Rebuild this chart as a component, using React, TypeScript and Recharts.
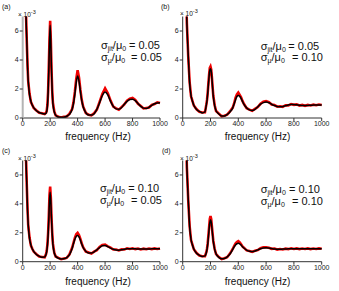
import { LineChart, Line, XAxis, YAxis } from "recharts";

const freq = [
  20, 25, 30, 35, 40, 50, 60, 70, 80, 100, 120, 140, 160, 170, 175, 180, 185,
  190, 195, 200, 205, 210, 215, 220, 230, 240, 260, 280, 300, 320, 340, 360,
  370, 380, 390, 400, 410, 420, 430, 440, 460, 480, 500, 520, 540, 560, 580,
  600, 620, 640, 660, 680, 700, 720, 740, 760, 780, 800, 820, 840, 860, 880,
  900, 920, 940, 960, 980, 1000,
];

// smooth fits (black)
const fitA = [
  10, 6.8, 5.3, 3.6, 2.6, 1.6, 1.15, 0.88, 0.72, 0.5, 0.38, 0.31, 0.28, 0.33, 0.45, 0.8, 1.7,
  3.3, 5.1, 6.4, 5.0, 3.2, 1.8, 1.0, 0.42, 0.2, 0.07, 0.05, 0.06, 0.12, 0.25, 0.6,
  1.0, 1.65, 2.45, 2.9, 2.55, 1.85, 1.2, 0.78, 0.36, 0.2, 0.2, 0.3, 0.6, 1.05, 1.55,
  1.8, 1.6, 1.15, 0.8, 0.63, 0.6, 0.72, 0.95, 1.15, 1.27, 1.3, 1.2, 1.0, 0.8, 0.68,
  0.66, 0.74, 0.87, 0.98, 1.04, 1.05,
];
const fitB = [
  10, 8.5, 6.6, 5.3, 4.3, 2.4, 1.55, 1.15, 0.88, 0.58, 0.45, 0.35, 0.42, 0.9, 1.2, 1.7, 2.3,
  2.9, 3.3, 3.4, 3.25, 2.75, 2.1, 1.5, 0.85, 0.5, 0.28, 0.14, 0.14, 0.25, 0.42, 0.7,
  0.97, 1.25, 1.48, 1.55, 1.5, 1.35, 1.15, 0.95, 0.7, 0.56, 0.52, 0.6, 0.78, 0.95, 1.06,
  1.1, 1.05, 0.95, 0.86, 0.8, 0.78, 0.8, 0.85, 0.9, 0.93, 0.93, 0.91, 0.88, 0.86, 0.86,
  0.87, 0.88, 0.89, 0.9, 0.9, 0.9,
];
const fitC = [
  10, 6.8, 5.3, 3.6, 2.6, 1.6, 1.15, 0.88, 0.72, 0.5, 0.38, 0.31, 0.32, 0.5, 0.7, 1.1, 1.8,
  2.9, 4.2, 4.8, 4.1, 2.9, 1.9, 1.2, 0.6, 0.38, 0.24, 0.19, 0.2, 0.28, 0.48, 0.92,
  1.25, 1.55, 1.75, 1.82, 1.72, 1.5, 1.22, 0.98, 0.72, 0.6, 0.6, 0.68, 0.82, 0.98, 1.1,
  1.12, 1.04, 0.94, 0.86, 0.81, 0.8, 0.82, 0.86, 0.89, 0.9, 0.9, 0.89, 0.88, 0.87, 0.87,
  0.88, 0.88, 0.89, 0.89, 0.9, 0.9,
];
const fitD = [
  10, 8.5, 6.6, 5.3, 4.3, 2.4, 1.55, 1.15, 0.88, 0.58, 0.45, 0.36, 0.4, 0.62, 0.85, 1.2, 1.7,
  2.25, 2.7, 2.9, 2.75, 2.35, 1.85, 1.4, 0.85, 0.55, 0.3, 0.2, 0.22, 0.33, 0.53, 0.85,
  1.02, 1.16, 1.24, 1.27, 1.24, 1.15, 1.04, 0.95, 0.8, 0.72, 0.7, 0.74, 0.82, 0.9, 0.95,
  0.96, 0.94, 0.91, 0.88, 0.86, 0.86, 0.87, 0.88, 0.89, 0.9, 0.9, 0.9, 0.89, 0.89, 0.89,
  0.9, 0.9, 0.9, 0.9, 0.9, 0.9,
];

// simulated spectra (red)
const psdA = [
  10, 6.9, 5.2, 3.7, 2.55, 1.65, 1.1, 0.9, 0.7, 0.52, 0.36, 0.33, 0.27, 0.36, 0.5, 0.9, 1.8,
  3.5, 5.4, 6.7, 5.3, 3.3, 1.9, 1.05, 0.45, 0.18, 0.09, 0.04, 0.08, 0.1, 0.28, 0.62,
  1.08, 1.8, 2.7, 3.3, 2.8, 1.95, 1.25, 0.8, 0.34, 0.23, 0.18, 0.33, 0.58, 1.1, 1.65,
  2.05, 1.7, 1.2, 0.78, 0.66, 0.57, 0.75, 0.93, 1.2, 1.33, 1.38, 1.24, 0.98, 0.83, 0.66,
  0.69, 0.72, 0.9, 0.96, 1.08, 1.03,
];
const psdB = [
  10, 8.6, 6.5, 5.4, 4.2, 2.45, 1.5, 1.18, 0.86, 0.6, 0.43, 0.38, 0.4, 0.92, 1.25, 1.75, 2.4,
  3.0, 3.45, 3.55, 3.35, 2.8, 2.15, 1.55, 0.88, 0.48, 0.3, 0.12, 0.16, 0.23, 0.45, 0.72,
  1.0, 1.38, 1.62, 1.75, 1.6, 1.42, 1.18, 0.98, 0.68, 0.58, 0.5, 0.63, 0.76, 0.98, 1.12,
  1.16, 1.1, 0.93, 0.89, 0.78, 0.81, 0.77, 0.88, 0.87, 0.96, 0.91, 0.94, 0.86, 0.9, 0.84,
  0.9, 0.86, 0.92, 0.88, 0.93, 0.89,
];
const psdC = [
  10, 6.9, 5.2, 3.7, 2.55, 1.65, 1.12, 0.9, 0.7, 0.52, 0.36, 0.33, 0.3, 0.53, 0.75, 1.2, 1.95,
  3.1, 4.6, 5.2, 4.4, 3.0, 2.0, 1.25, 0.62, 0.36, 0.26, 0.17, 0.22, 0.26, 0.5, 0.96,
  1.3, 1.65, 1.9, 2.0, 1.85, 1.58, 1.26, 1.0, 0.7, 0.63, 0.57, 0.7, 0.8, 1.02, 1.16,
  1.18, 1.06, 0.97, 0.84, 0.84, 0.78, 0.85, 0.84, 0.93, 0.88, 0.93, 0.87, 0.91, 0.85, 0.9,
  0.86, 0.91, 0.87, 0.92, 0.88, 0.92,
];
const psdD = [
  10, 8.6, 6.5, 5.4, 4.2, 2.45, 1.5, 1.18, 0.86, 0.6, 0.43, 0.38, 0.38, 0.66, 0.9, 1.28, 1.82,
  2.4, 2.95, 3.15, 2.95, 2.45, 1.95, 1.45, 0.88, 0.53, 0.32, 0.18, 0.24, 0.31, 0.56, 0.88,
  1.08, 1.25, 1.36, 1.42, 1.33, 1.2, 1.06, 0.97, 0.78, 0.74, 0.68, 0.76, 0.8, 0.93, 0.99,
  1.0, 0.96, 0.89, 0.91, 0.84, 0.88, 0.85, 0.9, 0.87, 0.93, 0.88, 0.92, 0.87, 0.91, 0.88,
  0.92, 0.87, 0.91, 0.88, 0.92, 0.89,
];

const xTicks = [0, 200, 400, 600, 800, 1000];
const yTicks = [0, 2, 4, 6];
const jitRatios = ["0.05", "0.05", "0.10", "0.10"];
const muRatios = ["0.05", "0.10", "0.05", "0.10"];
const panelNames = ["(a)", "(b)", "(c)", "(d)"];

const FONT = "'Liberation Sans', Arial, Helvetica, sans-serif";

type PanelProps = {
  left: number;
  top: number;
  w: number;
  h: number;
  mTop: number;
  mRight: number;
  yW: number;
  xH: number;
  fit: number[];
  psd: number[];
  grayAxis?: boolean;
};

function Panel({ left, top, w, h, mTop, mRight, yW, xH, fit, psd, grayAxis }: PanelProps) {
  const data = freq.map((f, i) => ({ f, fit: fit[i], psd: psd[i] }));
  const tick = { fontSize: 7, fill: "#222", fontFamily: FONT };
  return (
    <div style={{ position: "absolute", left, top }}>
      <LineChart width={w} height={h} data={data} margin={{ top: mTop, right: mRight, left: 0, bottom: 0 }}>
        <XAxis
          dataKey="f"
          type="number"
          domain={[0, 1000]}
          ticks={xTicks}
          height={xH}
          tickSize={3}
          tickMargin={0}
          tick={tick}
          axisLine={{ stroke: "#333" }}
          tickLine={{ stroke: "#333" }}
          interval={0}
        />
        <YAxis
          type="number"
          domain={[0, 7]}
          ticks={yTicks}
          allowDataOverflow
          width={yW}
          tickSize={3}
          tickMargin={1}
          tick={tick}
          axisLine={grayAxis ? { stroke: "#b4b4b4", strokeWidth: 2 } : { stroke: "#333" }}
          tickLine={{ stroke: "#333" }}
          interval={0}
        />
        <Line dataKey="psd" type="linear" stroke="#f00000" strokeWidth={2.6} dot={false} isAnimationActive={false} />
        <Line dataKey="fit" type="monotone" stroke="#000" strokeWidth={1.5} dot={false} isAnimationActive={false} />
      </LineChart>
    </div>
  );
}

const txt = (left: number, cy: number, size: number): React.CSSProperties => ({
  position: "absolute",
  left,
  top: cy - size / 2,
  fontSize: size,
  lineHeight: `${size}px`,
  fontFamily: FONT,
  color: "#111",
  whiteSpace: "nowrap",
});

function Texts({ idx, lx, ly, sx, sy, fx, fy, ax, ay, v1, v2, dy }: any) {
  return (
    <>
      <div style={txt(lx, ly, 7)}>{panelNames[idx]}</div>
      <div style={txt(sx, sy, 6.5)}>
        × 10<sup style={{ fontSize: 5.5, verticalAlign: "3px" }}>-3</sup>
      </div>
      <div style={{ ...txt(fx, fy, 10), transform: "translateX(-50%)" }}>frequency (Hz)</div>
      <div style={txt(ax, ay, 11)}>
        σ<sub style={{ fontSize: 7, verticalAlign: "-2px" }}>jit</sub>/μ<sub style={{ fontSize: 7, verticalAlign: "-2px" }}>0</sub>
      </div>
      <div style={txt(v1, ay, 11)}>= {jitRatios[idx]}</div>
      <div style={txt(ax, ay + dy, 11)}>
        σ<sub style={{ fontSize: 7, verticalAlign: "-2px" }}>μ</sub>/μ<sub style={{ fontSize: 7, verticalAlign: "-2px" }}>0</sub>
      </div>
      <div style={txt(v2, ay + dy, 11)}>= {muRatios[idx]}</div>
    </>
  );
}

export default function App() {
  return (
    <div style={{ position: "absolute", left: 0, top: 0, width: 339, height: 291, background: "#fff", overflow: "hidden" }}>
      <Panel left={0} top={0} w={170} h={145} mTop={16.5} mRight={10} yW={22.7} xH={27} fit={fitA} psd={psdA} grayAxis />
      <Panel left={170} top={0} w={169} h={145} mTop={16.5} mRight={17.3} yW={12.7} xH={27} fit={fitB} psd={psdB} />
      <Panel left={0} top={145} w={170} h={146} mTop={15.5} mRight={10} yW={22.7} xH={29.3} fit={fitC} psd={psdC} />
      <Panel left={170} top={145} w={169} h={146} mTop={15.5} mRight={17.3} yW={12.7} xH={29.3} fit={fitD} psd={psdD} />
      <Texts idx={0} lx={2} ly={6} sx={18} sy={12} fx={98} fy={136.7} ax={101} ay={45} v1={129} v2={131} dy={12} />
      <Texts idx={1} lx={161} ly={6} sx={180} sy={11} fx={257.5} fy={136.7} ax={260.7} ay={46} v1={288.3} v2={292} dy={11.5} />
      <Texts idx={2} lx={2} ly={150} sx={18} sy={156} fx={98} fy={281.7} ax={100} ay={188.3} v1={128.3} v2={131} dy={11.7} />
      <Texts idx={3} lx={162} ly={150} sx={180} sy={156} fx={257.5} fy={282} ax={260.7} ay={189.3} v1={289} v2={292} dy={11.7} />
    </div>
  );
}
